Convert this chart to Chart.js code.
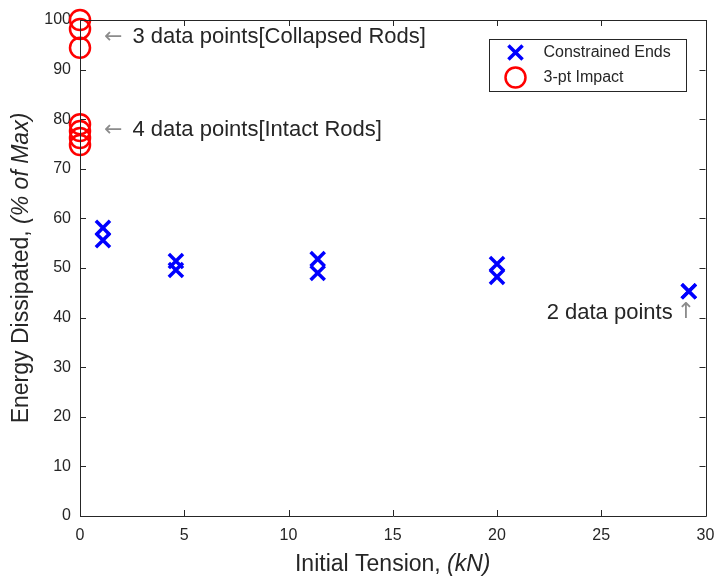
<!DOCTYPE html>
<html>
<head>
<meta charset="utf-8">
<script src="https://cdn.jsdelivr.net/npm/chart.js@4.4.0/dist/chart.umd.min.js"></script>
<style>
html, body { margin: 0; padding: 0; background: #fff; }
#caja { width: 719px; height: 581px; }
</style>
</head>
<body>
<div id="caja"><canvas id="grafica"></canvas></div>
<script>
// datos
var tensionCE = [1.1, 1.1, 4.6, 4.6, 11.4, 11.4, 20.0, 20.0, 29.2, 29.2];
var energiaCE = [58.1, 55.6, 51.4, 49.6, 51.8, 49.0, 50.8, 48.2, 45.3, 45.3];
var tensionImpacto = [0, 0, 0, 0, 0, 0, 0];
var energiaImpacto = [100, 98.2, 94.4, 79.0, 77.6, 76.2, 74.8];
var ticksX = [0, 5, 10, 15, 20, 25, 30];
var ticksY = [0, 10, 20, 30, 40, 50, 60, 70, 80, 90, 100];
var nombres = ["Constrained Ends", "3-pt Impact"];
var notas = ["3 data points[Collapsed Rods]", "4 data points[Intact Rods]", "2 data points"];

var gris = "#262626";
var fuente = "'Liberation Sans', Arial, sans-serif";
var fuenteFlecha = "'DejaVu Sans', sans-serif";

function puntos(xs, ys) {
    var out = [];
    for (var i = 0; i < xs.length; i++) out.push({x: xs[i], y: ys[i]});
    return out;
}

function textoMixto(ctx, partes, x, y, size) {
    // partes: [[texto, italica], ...] centrado en x
    var total = 0;
    partes.forEach(function(p){
        ctx.font = (p[1] ? "italic " : "") + size + "px " + fuente;
        total += ctx.measureText(p[0]).width;
    });
    var cx = x - total / 2;
    ctx.textAlign = "left";
    partes.forEach(function(p){
        ctx.font = (p[1] ? "italic " : "") + size + "px " + fuente;
        ctx.fillText(p[0], cx, y);
        cx += ctx.measureText(p[0]).width;
    });
}

var extras = {
    id: "extras",
    afterDatasetsDraw: function(chart) {
        var ctx = chart.ctx;
        var a = chart.chartArea;
        var sx = chart.scales.x, sy = chart.scales.y;
        ctx.save();

        // caja y marcas hacia dentro
        ctx.strokeStyle = gris;
        ctx.lineWidth = 1;
        ctx.beginPath();
        ctx.rect(Math.round(a.left) + 0.5, Math.round(a.top) + 0.5, Math.round(a.right - a.left), Math.round(a.bottom - a.top));
        ctx.stroke();
        var tl = 6;
        ctx.beginPath();
        ticksX.forEach(function(v){
            var px = Math.round(sx.getPixelForValue(v)) + 0.5;
            ctx.moveTo(px, a.bottom); ctx.lineTo(px, a.bottom - tl);
            ctx.moveTo(px, a.top); ctx.lineTo(px, a.top + tl);
        });
        ticksY.forEach(function(v){
            var py = Math.round(sy.getPixelForValue(v)) + 0.5;
            ctx.moveTo(a.left, py); ctx.lineTo(a.left + tl, py);
            ctx.moveTo(a.right, py); ctx.lineTo(a.right - tl, py);
        });
        ctx.stroke();

        // titulos de ejes
        ctx.fillStyle = gris;
        ctx.textBaseline = "middle";
        textoMixto(ctx, [["Initial Tension, ", false], ["(kN)", true]], (a.left + a.right) / 2, 565, 23);
        ctx.save();
        ctx.translate(22, (a.top + a.bottom) / 2);
        ctx.rotate(-Math.PI / 2);
        textoMixto(ctx, [["Energy Dissipated, ", false], ["(% of Max)", true]], 0, 0, 23);
        ctx.restore();

        // notas
        ctx.textBaseline = "middle";
        ctx.textAlign = "left";
        var n1x = sx.getPixelForValue(1.15), n1y = sy.getPixelForValue(96.6);
        var n2y = sy.getPixelForValue(77.8);
        ctx.font = "22px " + fuenteFlecha;
        ctx.fillStyle = "#8c8c8c";
        ctx.fillText("\u2190", n1x, n1y);
        ctx.fillText("\u2190", n1x, n2y);
        var fl = ctx.measureText("\u2190").width;
        ctx.font = "22px " + fuente;
        ctx.fillStyle = gris;
        ctx.fillText(notas[0], n1x + fl + 10, n1y);
        ctx.fillText(notas[1], n1x + fl + 10, n2y);

        var n3x = sx.getPixelForValue(29.5), n3y = sy.getPixelForValue(41.0);
        ctx.textAlign = "right";
        ctx.font = "22px " + fuenteFlecha;
        ctx.fillStyle = "#8c8c8c";
        ctx.fillText("\u2191", n3x, n3y);
        var fa = ctx.measureText("\u2191").width;
        ctx.font = "22px " + fuente;
        ctx.fillStyle = gris;
        ctx.fillText(notas[2], n3x - fa - 4, n3y);

        // leyenda
        var lx = Math.round(a.right) - 216.5, ly = Math.round(a.top) + 19.5, lw = 197, lh = 52;
        ctx.fillStyle = "#fff";
        ctx.fillRect(lx, ly, lw, lh);
        ctx.strokeStyle = gris;
        ctx.lineWidth = 1;
        ctx.strokeRect(lx, ly, lw, lh);
        chart.data.datasets.forEach(function(ds, i){
            var my = ly + 13 + i * 25;
            ctx.strokeStyle = ds.borderColor;
            ctx.lineWidth = ds.borderWidth;
            ctx.beginPath();
            if (ds.pointStyle === "crossRot") {
                var r = ds.pointRadius * Math.SQRT1_2;
                ctx.moveTo(lx + 26 - r, my - r); ctx.lineTo(lx + 26 + r, my + r);
                ctx.moveTo(lx + 26 + r, my - r); ctx.lineTo(lx + 26 - r, my + r);
            } else {
                ctx.arc(lx + 26, my, ds.pointRadius, 0, Math.PI * 2);
            }
            ctx.stroke();
            ctx.fillStyle = gris;
            ctx.font = "16px " + fuente;
            ctx.textAlign = "left";
            ctx.fillText(ds.label, lx + 54, my);
        });
        ctx.restore();
    }
};

var gra = document.getElementById("grafica").getContext("2d");
var chart = new Chart(gra, {
    type: "scatter",
    data: {
        datasets: [
            {
                label: nombres[0],
                data: puntos(tensionCE, energiaCE),
                pointStyle: "crossRot",
                pointRadius: 10,
                pointHoverRadius: 10,
                borderWidth: 3.5,
                borderColor: "#0000ff",
                backgroundColor: "#0000ff",
                clip: false
            },
            {
                label: nombres[1],
                data: puntos(tensionImpacto, energiaImpacto),
                pointStyle: "circle",
                pointRadius: 10,
                pointHoverRadius: 10,
                borderWidth: 2.5,
                borderColor: "#ff0000",
                backgroundColor: "rgba(0,0,0,0)",
                clip: false
            }
        ]
    },
    options: {
        responsive: true,
        maintainAspectRatio: false,
        animation: false,
        events: [],
        layout: { padding: { top: 20, right: 13, left: 0, bottom: 0 } },
        plugins: { legend: { display: false }, tooltip: { enabled: false } },
        scales: {
            x: {
                type: "linear", min: 0, max: 30,
                afterBuildTicks: function(s){ s.ticks = ticksX.map(function(v){ return {value: v}; }); },
                afterFit: function(s){ s.height = 65; s.paddingRight = 0; s.paddingLeft = 0; },
                grid: { display: false, drawTicks: false },
                border: { display: false },
                ticks: { color: gris, font: { family: fuente, size: 16 }, padding: 10, autoSkip: false, maxRotation: 0 }
            },
            y: {
                type: "linear", min: 0, max: 100,
                afterBuildTicks: function(s){ s.ticks = ticksY.map(function(v){ return {value: v}; }); },
                afterFit: function(s){ s.width = 80; },
                grid: { display: false, drawTicks: false },
                border: { display: false },
                ticks: { color: gris, font: { family: fuente, size: 16 }, padding: 9, autoSkip: false }
            }
        }
    },
    plugins: [extras]
});
</script>
</body>
</html>
